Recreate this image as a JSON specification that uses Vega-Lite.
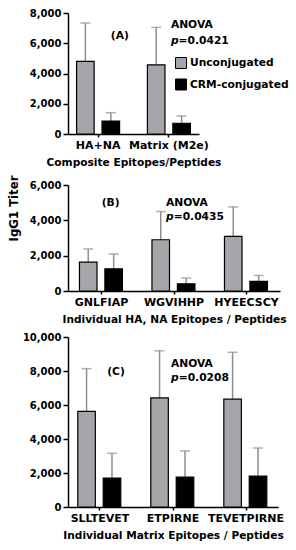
{
  "$schema": "https://vega.github.io/schema/vega-lite/v6.json",
  "padding": {"left": 7, "top": 8, "right": 0, "bottom": 0},
  "spacing": 6,
  "background": "white",
  "config": {
    "font": "DejaVu Sans",
    "view": {"stroke": null},
    "axis": {"labelFont": "DejaVu Sans", "labelFontSize": 10, "labelFontWeight": "bold", "labelColor": "black", "titleFont": "DejaVu Sans", "titleFontSize": 10.6, "titleFontWeight": "bold", "titleColor": "black", "domainColor": "black", "domainWidth": 1.5, "tickColor": "black", "tickWidth": 1.5, "grid": false},
    "axisY": {"tickSize": 5, "labelPadding": 2},
    "axisX": {"tickSize": 3, "labelAngle": 0, "labelPadding": 2.5, "labelFontSize": 11, "titlePadding": 7},
    "text": {"font": "DejaVu Sans", "fontWeight": "bold", "fontSize": 10.7, "color": "black", "baseline": "middle"}
  },
  "resolve": {"scale": {"color": "independent", "x": "independent", "y": "independent"}},
  "vconcat": [
    {
      "width": 131, "height": 121,
      "data": {"values": [
        {"group": "HA+NA", "series": "Unconjugated", "value": 4800, "err": 7340},
        {"group": "HA+NA", "series": "CRM-conjugated", "value": 860, "err": 1410},
        {"group": "Matrix (M2e)", "series": "Unconjugated", "value": 4575, "err": 7050},
        {"group": "Matrix (M2e)", "series": "CRM-conjugated", "value": 710, "err": 1190}
      ]},
      "encoding": {
        "x": {"field": "group", "type": "nominal", "scale": {"domain": ["HA+NA", "Matrix (M2e)"], "paddingInner": 0.35, "paddingOuter": 0.1}, "axis": {"title": "Composite Epitopes/Peptides"}}
      },
      "layer": [
        {"mark": {"type": "rule", "color": "#8e8e8e", "strokeWidth": 1.5},
         "encoding": {
           "xOffset": {"field": "series", "type": "nominal", "scale": {"domain": ["Unconjugated", "CRM-conjugated"], "paddingInner": 0.31, "paddingOuter": 0.06}},
           "y": {"field": "value", "type": "quantitative", "scale": {"domain": [0, 8000]}, "axis": {"title": null, "values": [0, 2000, 4000, 6000, 8000], "format": ",d"}},
           "y2": {"field": "err"}}},
        {"mark": {"type": "tick", "color": "#8e8e8e", "thickness": 1.5, "size": 10},
         "encoding": {
           "xOffset": {"field": "series", "type": "nominal", "scale": {"domain": ["Unconjugated", "CRM-conjugated"], "paddingInner": 0.31, "paddingOuter": 0.06}},
           "y": {"field": "err", "type": "quantitative", "scale": {"domain": [0, 8000]}, "axis": {"title": null, "values": [0, 2000, 4000, 6000, 8000], "format": ",d"}}}},
        {"mark": {"type": "bar", "stroke": "black", "strokeWidth": 1.2},
         "encoding": {
           "xOffset": {"field": "series", "type": "nominal", "scale": {"domain": ["Unconjugated", "CRM-conjugated"], "paddingInner": 0.31, "paddingOuter": 0.06}},
           "y": {"field": "value", "type": "quantitative", "scale": {"domain": [0, 8000]}, "axis": {"title": null, "values": [0, 2000, 4000, 6000, 8000], "format": ",d"}},
           "color": {"field": "series", "type": "nominal", "scale": {"domain": ["Unconjugated", "CRM-conjugated"], "range": ["#a5a5aa", "#000000"]},
             "legend": {"title": null, "orient": "none", "legendX": 107, "legendY": 44, "symbolType": "square", "symbolSize": 121, "symbolStrokeColor": "black", "symbolStrokeWidth": 1, "labelFont": "DejaVu Sans", "labelFontSize": 10.7, "labelFontWeight": "bold", "labelColor": "black", "labelOffset": 3, "rowPadding": 5.5}}}},
        {"data": {"values": [{"group": "HA+NA", "series": "CRM-conjugated", "y": 6500, "t": "(A)"}]},
         "mark": {"type": "text", "dx": 9},
         "encoding": {
           "xOffset": {"field": "series", "type": "nominal", "scale": {"domain": ["Unconjugated", "CRM-conjugated"], "paddingInner": 0.31, "paddingOuter": 0.06}},
           "y": {"field": "y", "type": "quantitative", "scale": {"domain": [0, 8000]}, "axis": {"title": null, "values": [0, 2000, 4000, 6000, 8000], "format": ",d"}},
           "text": {"field": "t"}}},
        {"data": {"values": [{"group": "Matrix (M2e)", "y": 7200, "t": "ANOVA"}]},
         "mark": {"type": "text", "align": "left", "dx": 2},
         "encoding": {
           "y": {"field": "y", "type": "quantitative", "scale": {"domain": [0, 8000]}, "axis": {"title": null, "values": [0, 2000, 4000, 6000, 8000], "format": ",d"}},
           "text": {"field": "t"}}},
        {"data": {"values": [{"group": "Matrix (M2e)", "y": 6170, "t": "p"}]},
         "mark": {"type": "text", "align": "left", "dx": 2, "fontStyle": "italic"},
         "encoding": {
           "y": {"field": "y", "type": "quantitative", "scale": {"domain": [0, 8000]}, "axis": {"title": null, "values": [0, 2000, 4000, 6000, 8000], "format": ",d"}},
           "text": {"field": "t"}}},
        {"data": {"values": [{"group": "Matrix (M2e)", "y": 6170, "t": "=0.0421"}]},
         "mark": {"type": "text", "align": "left", "dx": 9.7},
         "encoding": {
           "y": {"field": "y", "type": "quantitative", "scale": {"domain": [0, 8000]}, "axis": {"title": null, "values": [0, 2000, 4000, 6000, 8000], "format": ",d"}},
           "text": {"field": "t"}}}
      ]
    },
    {
      "width": 212, "height": 106,
      "data": {"values": [
        {"group": "GNLFIAP", "series": "Unconjugated", "value": 1630, "err": 2380},
        {"group": "GNLFIAP", "series": "CRM-conjugated", "value": 1256, "err": 2100},
        {"group": "WGVIHHP", "series": "Unconjugated", "value": 2900, "err": 4500},
        {"group": "WGVIHHP", "series": "CRM-conjugated", "value": 410, "err": 730},
        {"group": "HYEECSCY", "series": "Unconjugated", "value": 3090, "err": 4760},
        {"group": "HYEECSCY", "series": "CRM-conjugated", "value": 540, "err": 880}
      ]},
      "encoding": {
        "x": {"field": "group", "type": "nominal", "scale": {"domain": ["GNLFIAP", "WGVIHHP", "HYEECSCY"], "paddingInner": 0.35, "paddingOuter": 0.137}, "axis": {"title": "Individual HA, NA Epitopes / Peptides"}}
      },
      "layer": [
        {"mark": {"type": "rule", "color": "#8e8e8e", "strokeWidth": 1.5},
         "encoding": {
           "xOffset": {"field": "series", "type": "nominal", "scale": {"domain": ["Unconjugated", "CRM-conjugated"], "paddingInner": 0.31, "paddingOuter": 0.06}},
           "y": {"field": "value", "type": "quantitative", "scale": {"domain": [0, 6000]}, "axis": {"title": "IgG1 Titer", "titleFontSize": 11.7, "titleX": -49, "titleY": 23, "values": [0, 2000, 4000, 6000], "format": ",d"}},
           "y2": {"field": "err"}}},
        {"mark": {"type": "tick", "color": "#8e8e8e", "thickness": 1.5, "size": 10},
         "encoding": {
           "xOffset": {"field": "series", "type": "nominal", "scale": {"domain": ["Unconjugated", "CRM-conjugated"], "paddingInner": 0.31, "paddingOuter": 0.06}},
           "y": {"field": "err", "type": "quantitative", "scale": {"domain": [0, 6000]}, "axis": {"title": "IgG1 Titer", "titleFontSize": 11.7, "titleX": -49, "titleY": 23, "values": [0, 2000, 4000, 6000], "format": ",d"}}}},
        {"mark": {"type": "bar", "stroke": "black", "strokeWidth": 1.2},
         "encoding": {
           "xOffset": {"field": "series", "type": "nominal", "scale": {"domain": ["Unconjugated", "CRM-conjugated"], "paddingInner": 0.31, "paddingOuter": 0.06}},
           "y": {"field": "value", "type": "quantitative", "scale": {"domain": [0, 6000]}, "axis": {"title": "IgG1 Titer", "titleFontSize": 11.7, "titleX": -49, "titleY": 23, "values": [0, 2000, 4000, 6000], "format": ",d"}},
           "color": {"field": "series", "type": "nominal", "scale": {"domain": ["Unconjugated", "CRM-conjugated"], "range": ["#a5a5aa", "#000000"]}, "legend": null}}},
        {"data": {"values": [{"group": "GNLFIAP", "series": "CRM-conjugated", "y": 5000, "t": "(B)"}]},
         "mark": {"type": "text", "dx": -3},
         "encoding": {
           "xOffset": {"field": "series", "type": "nominal", "scale": {"domain": ["Unconjugated", "CRM-conjugated"], "paddingInner": 0.31, "paddingOuter": 0.06}},
           "y": {"field": "y", "type": "quantitative", "scale": {"domain": [0, 6000]}, "axis": {"title": "IgG1 Titer", "titleFontSize": 11.7, "titleX": -49, "titleY": 23, "values": [0, 2000, 4000, 6000], "format": ",d"}},
           "text": {"field": "t"}}},
        {"data": {"values": [{"group": "WGVIHHP", "y": 5000, "t": "ANOVA"}]},
         "mark": {"type": "text", "align": "left", "dx": -8},
         "encoding": {
           "y": {"field": "y", "type": "quantitative", "scale": {"domain": [0, 6000]}, "axis": {"title": "IgG1 Titer", "titleFontSize": 11.7, "titleX": -49, "titleY": 23, "values": [0, 2000, 4000, 6000], "format": ",d"}},
           "text": {"field": "t"}}},
        {"data": {"values": [{"group": "WGVIHHP", "y": 4200, "t": "p"}]},
         "mark": {"type": "text", "align": "left", "dx": -8, "fontStyle": "italic"},
         "encoding": {
           "y": {"field": "y", "type": "quantitative", "scale": {"domain": [0, 6000]}, "axis": {"title": "IgG1 Titer", "titleFontSize": 11.7, "titleX": -49, "titleY": 23, "values": [0, 2000, 4000, 6000], "format": ",d"}},
           "text": {"field": "t"}}},
        {"data": {"values": [{"group": "WGVIHHP", "y": 4200, "t": "=0.0435"}]},
         "mark": {"type": "text", "align": "left", "dx": -0.3},
         "encoding": {
           "y": {"field": "y", "type": "quantitative", "scale": {"domain": [0, 6000]}, "axis": {"title": "IgG1 Titer", "titleFontSize": 11.7, "titleX": -49, "titleY": 23, "values": [0, 2000, 4000, 6000], "format": ",d"}},
           "text": {"field": "t"}}}
      ]
    },
    {
      "width": 210, "height": 170,
      "data": {"values": [
        {"group": "SLLTEVET", "series": "Unconjugated", "value": 5620, "err": 8140},
        {"group": "SLLTEVET", "series": "CRM-conjugated", "value": 1700, "err": 3160},
        {"group": "ETPIRNE", "series": "Unconjugated", "value": 6420, "err": 9190},
        {"group": "ETPIRNE", "series": "CRM-conjugated", "value": 1756, "err": 3300},
        {"group": "TEVETPIRNE", "series": "Unconjugated", "value": 6340, "err": 9100},
        {"group": "TEVETPIRNE", "series": "CRM-conjugated", "value": 1815, "err": 3470}
      ]},
      "encoding": {
        "x": {"field": "group", "type": "nominal", "scale": {"domain": ["SLLTEVET", "ETPIRNE", "TEVETPIRNE"], "paddingInner": 0.35, "paddingOuter": 0.113}, "axis": {"title": "Individual Matrix Epitopes / Peptides"}}
      },
      "layer": [
        {"mark": {"type": "rule", "color": "#8e8e8e", "strokeWidth": 1.5},
         "encoding": {
           "xOffset": {"field": "series", "type": "nominal", "scale": {"domain": ["Unconjugated", "CRM-conjugated"], "paddingInner": 0.31, "paddingOuter": 0.06}},
           "y": {"field": "value", "type": "quantitative", "scale": {"domain": [0, 10000]}, "axis": {"title": null, "values": [0, 2000, 4000, 6000, 8000, 10000], "format": ",d"}},
           "y2": {"field": "err"}}},
        {"mark": {"type": "tick", "color": "#8e8e8e", "thickness": 1.5, "size": 10},
         "encoding": {
           "xOffset": {"field": "series", "type": "nominal", "scale": {"domain": ["Unconjugated", "CRM-conjugated"], "paddingInner": 0.31, "paddingOuter": 0.06}},
           "y": {"field": "err", "type": "quantitative", "scale": {"domain": [0, 10000]}, "axis": {"title": null, "values": [0, 2000, 4000, 6000, 8000, 10000], "format": ",d"}}}},
        {"mark": {"type": "bar", "stroke": "black", "strokeWidth": 1.2},
         "encoding": {
           "xOffset": {"field": "series", "type": "nominal", "scale": {"domain": ["Unconjugated", "CRM-conjugated"], "paddingInner": 0.31, "paddingOuter": 0.06}},
           "y": {"field": "value", "type": "quantitative", "scale": {"domain": [0, 10000]}, "axis": {"title": null, "values": [0, 2000, 4000, 6000, 8000, 10000], "format": ",d"}},
           "color": {"field": "series", "type": "nominal", "scale": {"domain": ["Unconjugated", "CRM-conjugated"], "range": ["#a5a5aa", "#000000"]}, "legend": null}}},
        {"data": {"values": [{"group": "SLLTEVET", "series": "CRM-conjugated", "y": 7940, "t": "(C)"}]},
         "mark": {"type": "text", "dx": 4},
         "encoding": {
           "xOffset": {"field": "series", "type": "nominal", "scale": {"domain": ["Unconjugated", "CRM-conjugated"], "paddingInner": 0.31, "paddingOuter": 0.06}},
           "y": {"field": "y", "type": "quantitative", "scale": {"domain": [0, 10000]}, "axis": {"title": null, "values": [0, 2000, 4000, 6000, 8000, 10000], "format": ",d"}},
           "text": {"field": "t"}}},
        {"data": {"values": [{"group": "ETPIRNE", "y": 8410, "t": "ANOVA"}]},
         "mark": {"type": "text", "align": "left", "dx": -2},
         "encoding": {
           "y": {"field": "y", "type": "quantitative", "scale": {"domain": [0, 10000]}, "axis": {"title": null, "values": [0, 2000, 4000, 6000, 8000, 10000], "format": ",d"}},
           "text": {"field": "t"}}},
        {"data": {"values": [{"group": "ETPIRNE", "y": 7590, "t": "p"}]},
         "mark": {"type": "text", "align": "left", "dx": -2, "fontStyle": "italic"},
         "encoding": {
           "y": {"field": "y", "type": "quantitative", "scale": {"domain": [0, 10000]}, "axis": {"title": null, "values": [0, 2000, 4000, 6000, 8000, 10000], "format": ",d"}},
           "text": {"field": "t"}}},
        {"data": {"values": [{"group": "ETPIRNE", "y": 7590, "t": "=0.0208"}]},
         "mark": {"type": "text", "align": "left", "dx": 5.7},
         "encoding": {
           "y": {"field": "y", "type": "quantitative", "scale": {"domain": [0, 10000]}, "axis": {"title": null, "values": [0, 2000, 4000, 6000, 8000, 10000], "format": ",d"}},
           "text": {"field": "t"}}}
      ]
    }
  ]
}
